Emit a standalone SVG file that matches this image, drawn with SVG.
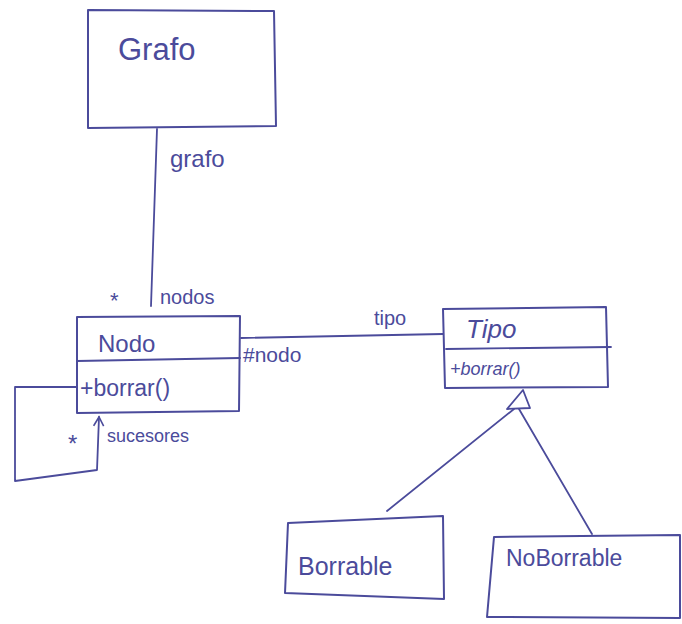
<svg xmlns="http://www.w3.org/2000/svg" width="682" height="624" viewBox="0 0 682 624">
  <style>
    .box { fill: none; stroke: #4b4b9b; stroke-width: 2; stroke-linejoin: round; }
    .line { fill: none; stroke: #4b4b9b; stroke-width: 1.8; stroke-linecap: round; stroke-linejoin: round; }
    .t { font-family: "Liberation Sans", "DejaVu Sans", sans-serif; fill: #4b4b9b; }
  </style>
  <defs>
    <marker id="open-arrow" viewBox="0 0 12 12" refX="10" refY="6" markerWidth="12" markerHeight="12" markerUnits="userSpaceOnUse" orient="auto">
      <path d="M1,1 L10,6 L1,11" fill="none" stroke="#4b4b9b" stroke-width="1.6"/>
    </marker>
  </defs>

  <rect width="682" height="624" fill="#ffffff"/>

  <!-- connectors -->
  <g id="connectors">
    <!-- Grafo to Nodo association -->
    <path class="line" d="M157,129 L151,306"/>
    <text class="t" x="170" y="167" font-size="24">grafo</text>
    <text class="t" x="110" y="308" font-size="22">*</text>
    <text class="t" x="160" y="304" font-size="20">nodos</text>

    <!-- Nodo to Tipo association -->
    <path class="line" d="M241,338 L443,334"/>
    <text class="t" x="374" y="325" font-size="20">tipo</text>
    <text class="t" x="243" y="362" font-size="21">#nodo</text>

    <!-- self association: sucesores -->
    <path class="line" d="M77,387 L15,387 L15,481 L97,470 L99,417" marker-end="url(#open-arrow)"/>
    <text class="t" x="68" y="452" font-size="24">*</text>
    <text class="t" x="107" y="442" font-size="18">sucesores</text>

    <!-- generalization toward Tipo -->
    <polygon points="523,390 507,409 530,408" fill="#ffffff" stroke="#4b4b9b" stroke-width="1.8" stroke-linejoin="round"/>
    <path class="line" d="M514,409 L387,511"/>
    <path class="line" d="M519,409 L592,534"/>
  </g>

  <g id="grafo">
    <path class="box" d="M88,10 L274,11 L276,126 L88,128 Z"/>
    <text class="t" x="118" y="60" font-size="31">Grafo</text>
  </g>

  <g id="nodo">
    <path class="box" d="M77,317 L240,316 L239,411 L77,413 Z"/>
    <path class="line" d="M77,361 L240,358"/>
    <text class="t" x="98" y="352" font-size="24">Nodo</text>
    <text class="t" x="80" y="396" font-size="23">+borrar()</text>
  </g>

  <g id="tipo">
    <path class="box" d="M443,309 L606,307 L608,387 L445,388 Z"/>
    <path class="line" d="M446,349 L611,347"/>
    <text class="t" x="466" y="338" font-size="26" font-style="italic">Tipo</text>
    <text class="t" x="450" y="375" font-size="18" font-style="italic">+borrar()</text>
  </g>

  <g id="borrable">
    <path class="box" d="M288,523 L443,516 L444,599 L285,593 Z"/>
    <text class="t" x="298" y="575" font-size="25">Borrable</text>
  </g>

  <g id="noborrable">
    <path class="box" d="M494,537 L680,535 L680,618 L487,617 Z"/>
    <text class="t" x="506" y="566" font-size="23">NoBorrable</text>
  </g>
</svg>
